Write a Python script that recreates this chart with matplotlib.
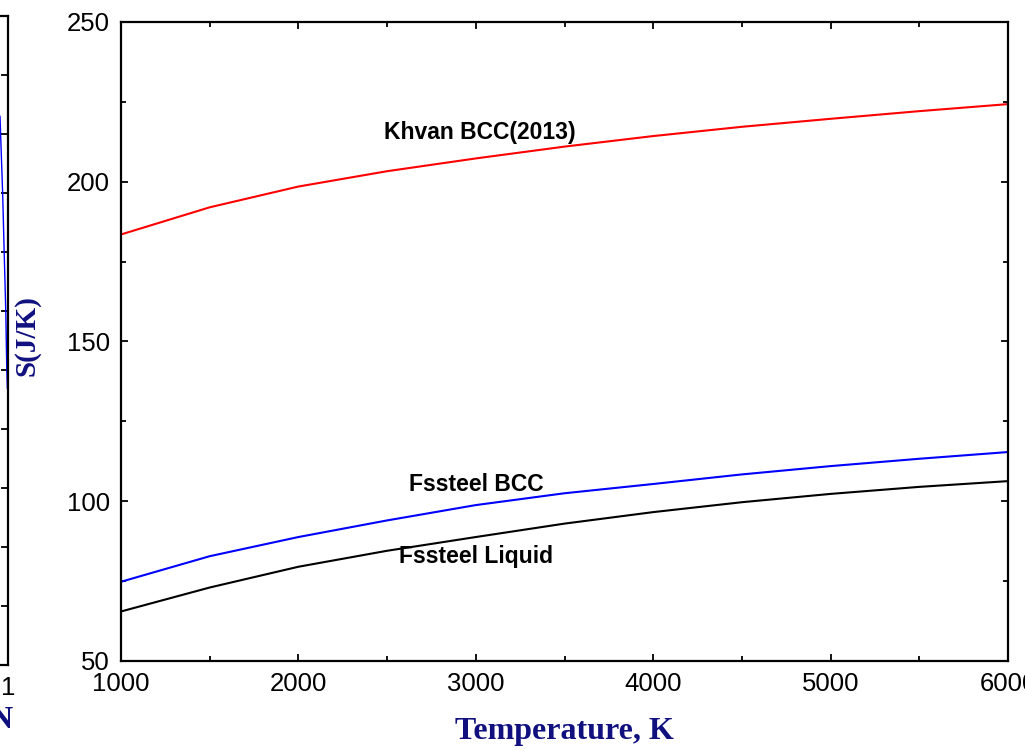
import matplotlib
matplotlib.use("Agg")
import matplotlib.pyplot as plt
from matplotlib.ticker import MultipleLocator

# temperature grid (K) and entropy values S (J/K)
temp = [1000, 1500, 2000, 2500, 3000, 3500, 4000, 4500, 5000, 5500, 6000]
s_khvan_bcc = [183.5, 192.0, 198.5, 203.3, 207.3, 211.0, 214.3, 217.2, 219.7, 222.1, 224.3]
s_fss_bcc = [74.8, 82.8, 88.8, 94.0, 98.8, 102.5, 105.4, 108.4, 111.0, 113.3, 115.4]
s_fss_liq = [65.5, 73.0, 79.5, 84.5, 88.8, 93.0, 96.6, 99.7, 102.3, 104.5, 106.3]

# leftover edge of the neighbouring panel (only its last few pixels are visible)
left_x = [0.9746, 0.983, 0.988, 0.993, 0.996, 0.998]
left_y = [9.3, 8.0, 6.98, 5.98, 5.05, 4.69]

navy = "#10107f"
tick_font = "Liberation Sans"

fig = plt.figure(figsize=(10.25, 7.5), dpi=100)

# ---- main panel ----
ax = fig.add_axes([121 / 1025, 1 - 661 / 750, 887 / 1025, 639 / 750])
ax.plot(temp, s_khvan_bcc, color="#ff0000", lw=1.5)
ax.plot(temp, s_fss_bcc, color="#0000ff", lw=1.5)
ax.plot(temp, s_fss_liq, color="black", lw=1.5)

ax.set_xlim(1000, 6000)
ax.set_ylim(50, 250)
ax.xaxis.set_major_locator(MultipleLocator(1000))
ax.xaxis.set_minor_locator(MultipleLocator(500))
ax.yaxis.set_major_locator(MultipleLocator(50))
ax.yaxis.set_minor_locator(MultipleLocator(25))
ax.tick_params(which="both", direction="in", top=True, right=True, width=1.3)
ax.tick_params(which="major", length=5, labelsize=18.5, pad=8)
ax.tick_params(which="minor", length=3.5)
for lbl in ax.get_xticklabels() + ax.get_yticklabels():
    lbl.set_fontfamily(tick_font)
for sp in ax.spines.values():
    sp.set_linewidth(1.6)

ax.set_xlabel("Temperature, K", fontsize=23, fontweight="bold",
              family="Liberation Serif", color=navy)
ax.set_ylabel("S(J/K)", fontsize=21, fontweight="bold",
              family="Liberation Serif", color=navy)
ax.xaxis.set_label_coords(0.5, -0.088)
ax.yaxis.set_label_coords(-0.091, 0.51)

txt = dict(fontsize=16.5, fontweight="bold", family=tick_font,
           ha="center", va="center")
ax.text(3023, 215.3, "Khvan BCC(2013)", **txt)
ax.text(3001, 105.1, "Fssteel BCC", **txt)
ax.text(3001, 82.6, "Fssteel Liquid", **txt)

# ---- cut-off neighbouring panel on the far left ----
ax2 = fig.add_axes([-0.3, 1 - 665 / 750, 0.3 + 8 / 1025, 649 / 750])
ax2.plot(left_x, left_y, color="#0000ff", lw=1.0)
ax2.set_xlim(0, 1)
ax2.set_ylim(0, 11)
ax2.set_xticks([1])
ax2.set_xticklabels(["1"])
ax2.set_yticks(range(1, 11))
ax2.set_yticklabels([])
ax2.tick_params(direction="in", right=True, length=5, width=1.3,
                labelsize=18.5, pad=8)
for lbl in ax2.get_xticklabels():
    lbl.set_fontfamily(tick_font)
for sp in ax2.spines.values():
    sp.set_linewidth(1.6)
fig.text(13 / 1025, 1 - 720 / 750, "N", ha="right", va="center",
         fontsize=23, fontweight="bold", family="Liberation Serif", color=navy)

fig.savefig("out.png", dpi=100)
